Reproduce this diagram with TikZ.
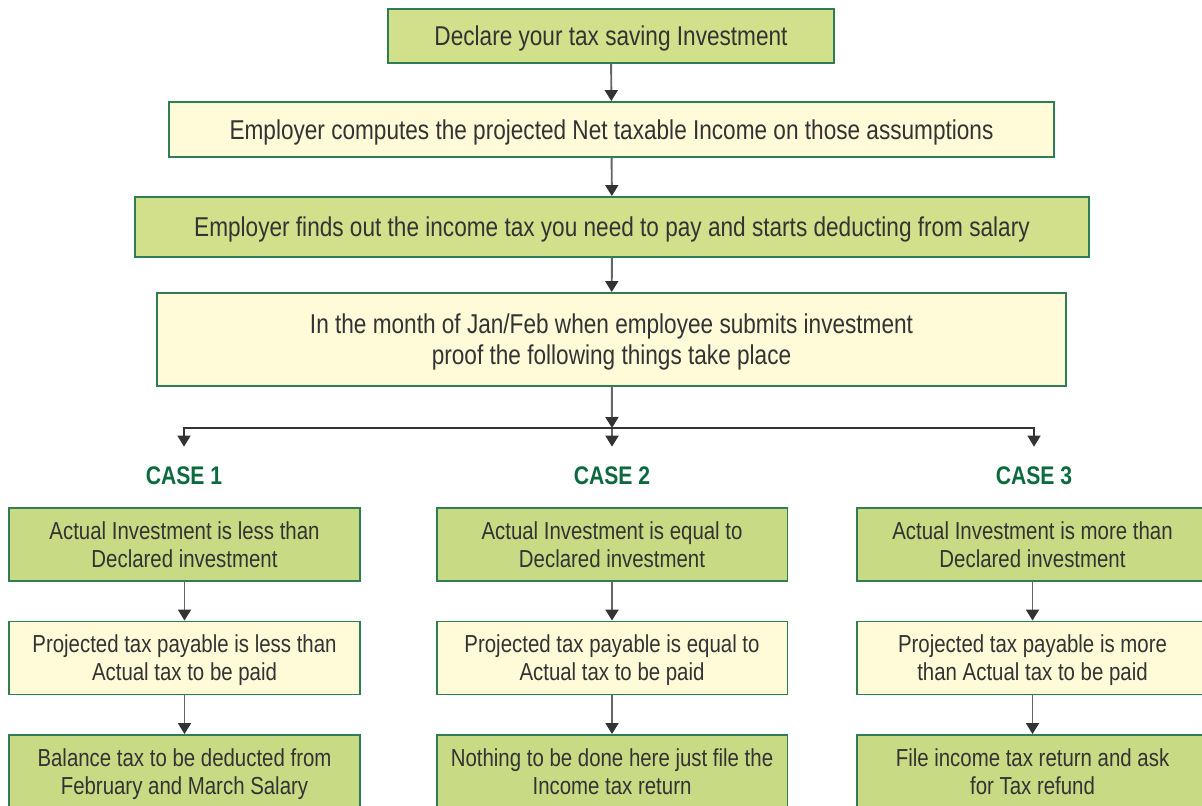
\documentclass[tikz,border=0pt]{standalone}
\usepackage{fontspec}
\setmainfont[FakeStretch=0.83]{Liberation Sans}
\usetikzlibrary{arrows.meta}

\definecolor{boxgreen}{HTML}{D2E08C}
\definecolor{casegreen}{HTML}{C9DA84}
\definecolor{boxyellow}{HTML}{FFFAD8}
\definecolor{edgegreen}{HTML}{2E7D55}
\definecolor{casetext}{HTML}{0C6B3E}
\definecolor{txtgrey}{HTML}{333333}
\definecolor{arrgrey}{HTML}{666666}
\definecolor{tipgrey}{HTML}{333333}

\begin{document}
\begin{tikzpicture}[x=0.02cm,y=-0.02cm,
        box/.style = {draw=edgegreen, line width=1.1pt, inner sep=0pt, align=center, text=txtgrey, text depth=0pt},
        bigbox/.style = {box, font=\fontsize{15.5}{17.6}\selectfont},
        smallbox/.style = {box, font=\fontsize{14}{16}\selectfont, minimum width=7.02cm, minimum height=1.46cm},
        casetitle/.style = {font=\bfseries\fontsize{14.5}{17}\selectfont, text=casetext, minimum height=1.16cm, inner sep=0pt},
        arr/.style = {draw=arrgrey, line width=1.1pt, -{Triangle[width=0.26cm,length=0.22cm,color=tipgrey]}},
        branch/.style = {draw=tipgrey, line width=0.8pt, -{Triangle[width=0.26cm,length=0.22cm,color=tipgrey]}}]

        \useasboundingbox (0,0) rectangle (1202,805);

        % Main steps
        \node[bigbox,fill=boxgreen,minimum width=8.92cm,minimum height=1.08cm] (declare) at (611,36)
            {Declare your tax saving Investment};
        \node[bigbox,fill=boxyellow,minimum width=17.7cm,minimum height=1.1cm] (compute) at (611.5,129.5)
            {Employer computes the projected Net taxable Income on those assumptions};
        \node[bigbox,fill=boxgreen,minimum width=19.08cm,minimum height=1.2cm] (deduct) at (612,227)
            {Employer finds out the income tax you need to pay and starts deducting from salary};
        \node[bigbox,fill=boxyellow,minimum width=18.18cm,minimum height=1.86cm] (proof) at (611.5,339.5)
            {In the month of Jan/Feb when employee submits investment\\proof the following things take place};

        \draw[arr] (declare) -- (compute);
        \draw[arr] (compute) -- (deduct);
        \draw[arr] (deduct) -- (proof);

        % Split into the three cases
        \coordinate (split) at (612,428);
        \node[casetitle] (case1) at (184,476) {CASE 1};
        \node[casetitle] (case2) at (612,476) {CASE 2};
        \node[casetitle] (case3) at (1034,476) {CASE 3};

        \draw[arr] (proof) -- (split);
        \draw[arr] (split) -- (case2);
        \draw[branch] (split) -| (case1);
        \draw[branch] (split) -| (case3);

        % Case 1
        \node[smallbox,fill=casegreen] (c1a) at (184.5,544.5)
            {Actual Investment is less than\\Declared investment};
        \node[smallbox,fill=boxyellow] (c1b) at (184.5,658)
            {Projected tax payable is less than\\Actual tax to be paid};
        \node[smallbox,fill=casegreen] (c1c) at (184.5,771.5)
            {Balance tax to be deducted from\\February and March Salary};

        % Case 2
        \node[smallbox,fill=casegreen] (c2a) at (612,544.5)
            {Actual Investment is equal to\\Declared investment};
        \node[smallbox,fill=boxyellow] (c2b) at (612,658)
            {Projected tax payable is equal to\\Actual tax to be paid};
        \node[smallbox,fill=casegreen] (c2c) at (612,771.5)
            {Nothing to be done here just file the\\Income tax return};

        % Case 3
        \node[smallbox,fill=casegreen] (c3a) at (1032.5,544.5)
            {Actual Investment is more than\\Declared investment};
        \node[smallbox,fill=boxyellow] (c3b) at (1032.5,658)
            {Projected tax payable is more\\than Actual tax to be paid};
        \node[smallbox,fill=casegreen] (c3c) at (1032.5,771.5)
            {File income tax return and ask\\for Tax refund};

        \draw[arr] (c1a) -- (c1b);
        \draw[arr] (c1b) -- (c1c);
        \draw[arr] (c2a) -- (c2b);
        \draw[arr] (c2b) -- (c2c);
        \draw[arr] (c3a) -- (c3b);
        \draw[arr] (c3b) -- (c3c);

    \end{tikzpicture}
\end{document}
